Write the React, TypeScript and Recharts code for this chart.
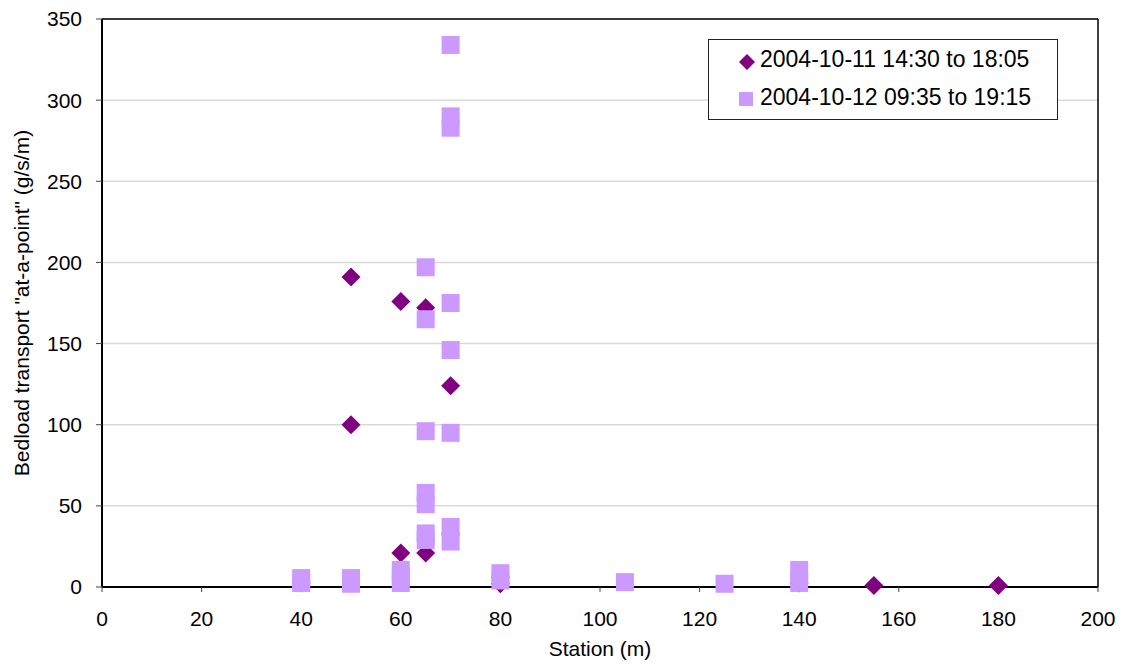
import React from 'react';
import {
  ScatterChart,
  Scatter,
  XAxis,
  YAxis,
  CartesianGrid,
  ReferenceLine
} from 'recharts';

// station (m) and bedload (g/s/m)
const oct11Station = [40, 50, 50, 60, 60, 65, 65, 70, 70, 80, 80, 140, 155, 180];
const oct11Bedload = [2.5, 191, 100, 176, 21, 172, 21, 124, 33, 6, 2, 2.5, 1, 1];

const oct12Station = [
  40, 40, 50, 50, 60, 60, 60,
  65, 65, 65, 65, 65, 65, 65,
  70, 70, 70, 70, 70, 70, 70, 70,
  80, 80, 105, 125, 140, 140
];
const oct12Bedload = [
  5.5, 2.5, 5.5, 2, 10.5, 6, 2.5,
  197, 165, 96, 58, 51, 33, 29,
  334, 290, 283, 175, 146, 95, 37, 28,
  8.5, 4, 3, 2, 10.5, 2.5
];

const xTicks = [0, 20, 40, 60, 80, 100, 120, 140, 160, 180, 200];
const yTicks = [0, 50, 100, 150, 200, 250, 300, 350];

const seriesNames = ['2004-10-11 14:30 to 18:05', '2004-10-12 09:35 to 19:15'];
const DARK = '#800080';
const LIGHT = '#CC99FF';
const FONT = 'Liberation Sans, Arial, sans-serif';

const toPoints = (xs: number[], ys: number[]) => xs.map((x, i) => ({ x, y: ys[i] }));

const Diamond = ({ cx, cy }: any) => {
  const r = 9.5;
  return (
    <polygon
      points={`${cx},${cy - r} ${cx + r},${cy} ${cx},${cy + r} ${cx - r},${cy}`}
      fill={DARK}
    />
  );
};

const Square = ({ cx, cy }: any) => (
  <rect x={cx - 9} y={cy - 9} width={18} height={18} fill={LIGHT} />
);

// legend drawn as an overlay so it doesn't eat plot height
const LegendBox = () => (
  <div
    style={{
      position: 'absolute',
      left: 708,
      top: 39,
      width: 350,
      height: 81,
      border: '1px solid #222',
      background: '#fff',
      fontFamily: FONT,
      fontSize: 23,
      color: '#000',
      boxSizing: 'border-box',
      whiteSpace: 'nowrap'
    }}
  >
    <svg width={60} height={80} style={{ position: 'absolute', left: 0, top: 0 }}>
      <polygon points="38,14 46,22 38,30 30,22" fill={DARK} />
      <rect x={30} y={52} width={14} height={14} fill={LIGHT} />
    </svg>
    <div style={{ position: 'absolute', left: 51, top: 5, lineHeight: '28px' }}>{seriesNames[0]}</div>
    <div style={{ position: 'absolute', left: 51, top: 43, lineHeight: '28px' }}>{seriesNames[1]}</div>
  </div>
);

const YTitle = ({ viewBox }: any) => {
  const cx = 21;
  const cy = viewBox.y + viewBox.height / 2;
  return (
    <text
      x={cx}
      y={cy}
      transform={`rotate(-90, ${cx}, ${cy})`}
      textAnchor="middle"
      dominantBaseline="central"
      fontSize={21}
      fill="#000"
    >
      Bedload transport "at-a-point" (g/s/m)
    </text>
  );
};

export default function App() {
  return (
    <div style={{ position: 'absolute', left: 0, top: 0, width: 1121, height: 666, background: '#fff' }}>
      <ScatterChart
        width={1121}
        height={666}
        margin={{ top: 19, right: 23, bottom: 0, left: 0 }}
        style={{ fontFamily: FONT }}
      >
        <CartesianGrid horizontal vertical={false} stroke="#d9d9d9" strokeWidth={1.5} />
        <ReferenceLine y={350} stroke="#000" strokeWidth={1.5} />
        <ReferenceLine x={200} stroke="#000" strokeWidth={1.5} />
        <XAxis
          type="number"
          dataKey="x"
          domain={[0, 200]}
          ticks={xTicks}
          height={79}
          axisLine={{ stroke: '#000', strokeWidth: 2 }}
          tickLine={{ stroke: '#444' }}
          tickSize={5}
          tickMargin={19}
          tick={{ fill: '#000', fontSize: 21 }}
          label={{ value: 'Station (m)', position: 'insideBottom', offset: 10, fill: '#000', fontSize: 21 }}
        />
        <YAxis
          type="number"
          dataKey="y"
          domain={[0, 350]}
          ticks={yTicks}
          width={102}
          axisLine={{ stroke: '#000', strokeWidth: 2 }}
          tickLine={{ stroke: '#444' }}
          tickSize={6}
          tickMargin={14}
          tick={{ fill: '#000', fontSize: 21 }}
          label={<YTitle />}
        />
        <Scatter
          name={seriesNames[0]}
          data={toPoints(oct11Station, oct11Bedload)}
          fill={DARK}
          shape={<Diamond />}
          isAnimationActive={false}
        />
        <Scatter
          name={seriesNames[1]}
          data={toPoints(oct12Station, oct12Bedload)}
          fill={LIGHT}
          shape={<Square />}
          isAnimationActive={false}
        />
      </ScatterChart>
      <LegendBox />
    </div>
  );
}
